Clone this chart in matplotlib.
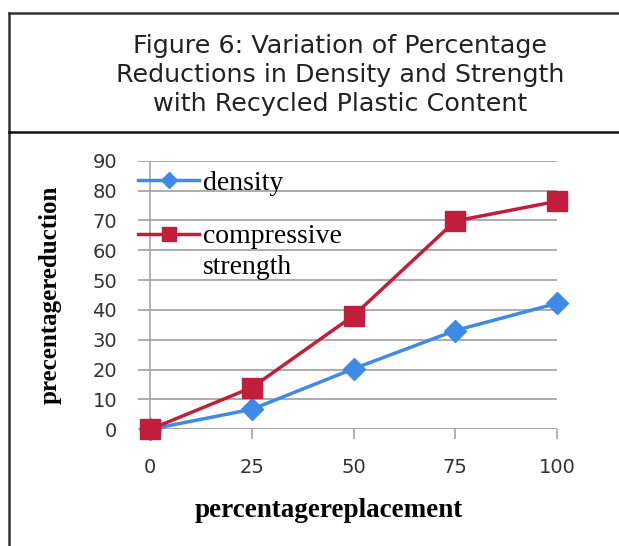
import matplotlib.pyplot as plt
from matplotlib.lines import Line2D

# data: percentage reduction vs percentage replacement
replacement = [0, 25, 50, 75, 100]
density = [0, 6.7, 20.3, 33.1, 42.2]
strength = [0, 14.0, 38.1, 69.8, 76.4]
yticks = [0, 10, 20, 30, 40, 50, 60, 70, 80, 90]

title = "Figure 6: Variation of Percentage\nReductions in Density and Strength\nwith Recycled Plastic Content"

blue = "#3f8ae6"
red = "#c21e3c"
grid_c = "#a6a6a6"

fig = plt.figure(figsize=(6.19, 5.46), dpi=100)
W, H = 619.0, 546.0

# frame around the figure caption and chart
frame_c = "#333333"
fig.add_artist(Line2D([9 / W, 9 / W], [0, 1 - 13 / H], color=frame_c, lw=1.8))
fig.add_artist(Line2D([9 / W, 1], [1 - 13 / H, 1 - 13 / H], color=frame_c, lw=1.8))
fig.add_artist(Line2D([9 / W, 1], [1 - 132 / H, 1 - 132 / H], color="#111111", lw=1.8))

fig.text(340 / W, 1 - 75 / H, title, ha="center", va="center", fontsize=18.3,
         family="DejaVu Sans", color="#222222", linespacing=1.27)

# plot area
ax = fig.add_axes([138 / W, 1 - 429.3 / H, (557 - 138) / W, (429.3 - 160.7) / H])
ax.set_xlim(-3, 100)
ax.set_ylim(0, 90)
for s in ax.spines.values():
    s.set_visible(False)
ax.axhline(0, color=grid_c, lw=1.5, zorder=1)
ax.axvline(0, color=grid_c, lw=1.2, zorder=1)
ax.set_yticks(yticks)
ax.yaxis.grid(True, color=grid_c, lw=1.3)
ax.set_axisbelow(True)
ax.set_xticks(replacement)
ax.tick_params(axis="x", length=7, width=1.2, color=grid_c, pad=14,
               labelsize=14, labelcolor="#333333")
ax.tick_params(axis="y", length=0, pad=15, labelsize=14, labelcolor="#333333")

l1, = ax.plot(replacement, density, color=blue, lw=2.5, marker="D", ms=11,
              clip_on=False, zorder=3)
l2, = ax.plot(replacement, strength, color=red, lw=2.5, marker="s", ms=14.5,
              clip_on=False, zorder=4)

serif = "Liberation Serif"
ax.set_xlabel("percentagereplacement", family=serif, weight="bold", fontsize=19.5,
              labelpad=17)
ax.xaxis.set_label_coords(0.455, -0.255)
ax.set_ylabel("precentagereduction", family=serif, weight="bold", fontsize=18,
              labelpad=22)

leg_kw = dict(frameon=False, prop={"family": serif, "size": 20}, handlelength=2.2,
              handletextpad=0.15, borderpad=0, borderaxespad=0, markerscale=0.7)
lg1 = ax.legend([l1], ["density"], loc="upper left",
                bbox_to_anchor=(0.0, 0.965), **leg_kw)
ax.add_artist(lg1)
blank = Line2D([], [], color="none")
ax.legend([l2, blank], ["compressive", "strength"], loc="upper left",
          bbox_to_anchor=(0.0, 0.765), labelspacing=0.2, **leg_kw)

fig.savefig("out.png", dpi=100)
